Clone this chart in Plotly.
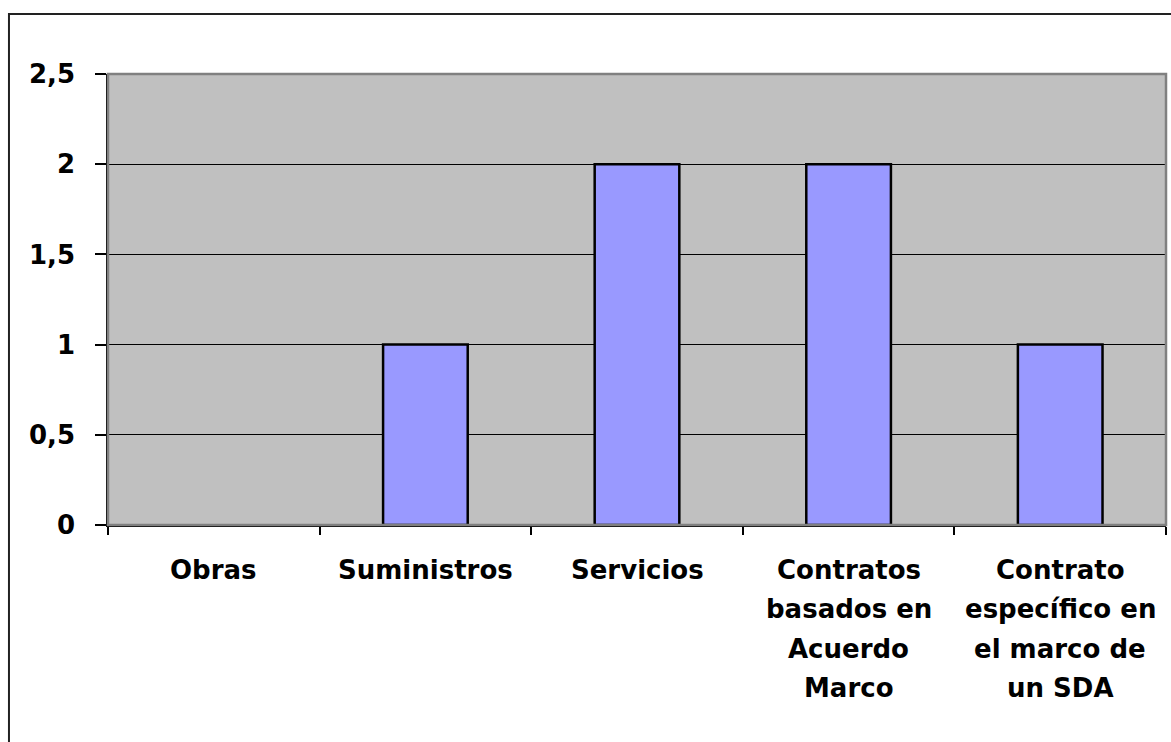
import plotly.graph_objs as go

categories = ["Obras", "Suministros", "Servicios",
              "Contratos basados en Acuerdo Marco",
              "Contrato específico en el marco de un SDA"]
label_lines = [["Obras"], ["Suministros"], ["Servicios"],
               ["Contratos", "basados en", "Acuerdo", "Marco"],
               ["Contrato", "específico en", "el marco de", "un SDA"]]
values = [0, 1, 2, 2, 1]
y_ticks = [0, 0.5, 1, 1.5, 2, 2.5]

FONT = dict(family="DejaVu Sans", size=26, color="black", weight="bold")

fig = go.Figure()
fig.add_trace(go.Bar(x=categories, y=values,
                     marker=dict(color="#9999FF",
                                 line=dict(color="black",
                                           width=[2.5 if v > 0 else 0 for v in values])),
                     hoverinfo="x+y"))

# x labels as stacked lines (excel style line spacing)
for cat, lines in zip(categories, label_lines):
    for k, txt in enumerate(lines):
        fig.add_annotation(x=cat, y=0, xref="x", yref="y", text=txt,
                           showarrow=False, yanchor="top", xanchor="center",
                           yshift=-28 - 39.3 * k, font=FONT)

# plot area border (gray top/right) and outer chart frame
fig.add_shape(type="rect", xref="paper", yref="paper", x0=0, x1=1, y0=0, y1=1,
              line=dict(color="#808080", width=2.5), layer="above")
fig.add_shape(type="rect", xref="paper", yref="paper",
              x0=-0.0936, x1=1.02, y0=-0.5, y1=1.133,
              line=dict(color="#222222", width=2))

fig.update_layout(
    width=1171, height=742,
    margin=dict(l=108, r=5, t=74, b=217),
    paper_bgcolor="white", plot_bgcolor="#C0C0C0",
    bargap=0.6, showlegend=False, separators=", ",
)
fig.update_xaxes(showticklabels=False, showline=True, linecolor="black", linewidth=1.5,
                 ticks="outside", tickson="boundaries", ticklen=8, tickcolor="black",
                 tickwidth=1.5, showgrid=False)
fig.update_yaxes(range=[0, 2.5], tickvals=y_ticks, showline=True, linecolor="black",
                 linewidth=1.5, ticks="outside", ticklen=11, tickcolor="black",
                 tickwidth=1.5, gridcolor="black", gridwidth=1, zeroline=False,
                 tickfont=FONT, ticklabelstandoff=15)

fig.write_html("out.html", config={"displayModeBar": False},
               post_script="document.body.style.margin='0';")
